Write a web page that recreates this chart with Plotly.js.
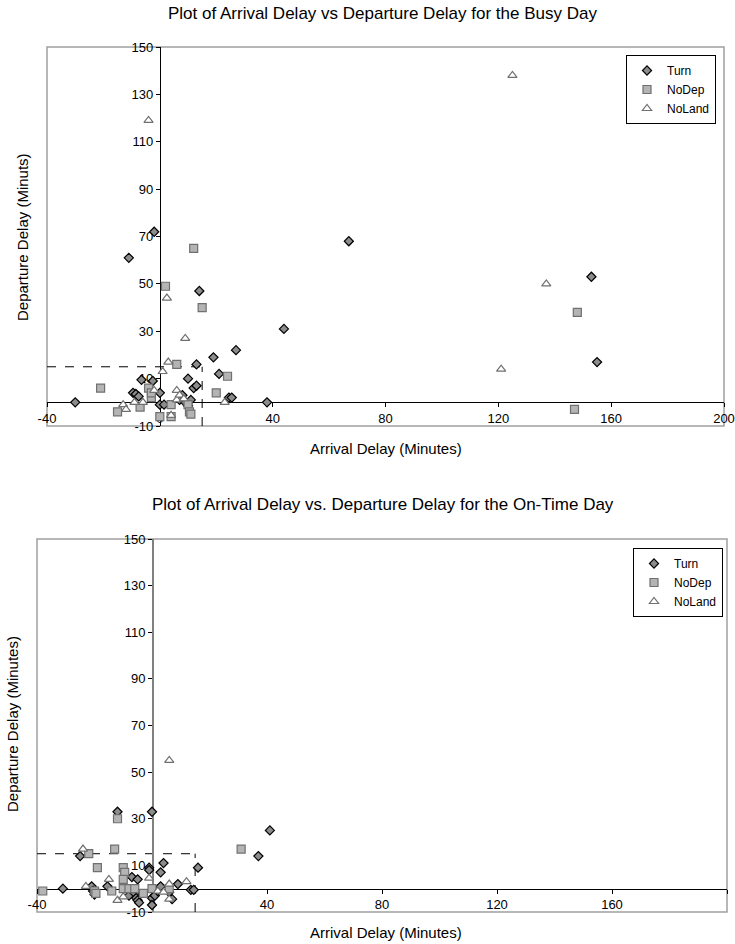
<!DOCTYPE html>
<html>
<head>
<meta charset="utf-8">
<script src="https://cdn.plot.ly/plotly-3.0.1.min.js"></script>
<style>html,body{margin:0;padding:0;background:#fff;}#chart{width:735px;height:944px;}</style>
</head>
<body>
<div id="chart"></div>
<script>
// ---- Data: Busy Day ----
const busyTurnX  = [-30,-11,-2,-9.5,-8.5,-7.5,-6.5,-2.5,0,0,1.5,7,9,10,8,10,11,12,13,13,14,19,21,27,24.5,25.5,38,44,67,153,155];
const busyTurnY  = [0,61,72,4,3.5,2.5,9.5,9,4,-1,-1,1,0,-1.5,3,10,1,6,7,16,47,19,12,22,2,2,0,31,68,53,17];
const busyNoDepX = [-21,-15,-7,-4,-3,-3,0,2,4,4,6,10,10.5,11,12,15,20,24,147,148];
const busyNoDepY = [6,-4,-2,6,2,4,-6,49,-1,-6,16,-1,-4,-5,65,40,4,11,-3,38];
const busyNoLandX = [-13,-12,-9,-6,-2,1,2.5,3,4,6,6,7,8.5,9,23,-4,121,125,137];
const busyNoLandY = [-1,-3,0,0,5,13,44,17,-5.5,5,1,3,1.5,27,0,119,14,138,50];

// ---- Data: On-Time Day ----
const onTurnX  = [-31,-25,-21,-20.5,-20,-15.5,-12,-8,-7,-5,-6,-5.5,-5,-4.5,-1,-1,0,0,0,1,2,3,3,4,6,7,9,13.5,14.5,16,37,41];
const onTurnY  = [0,14,1,-1,-2.5,1,33,-3,5,4,-2,-4,-5,-6,9,8,33,-4,-7,-3,-1,1,7,11,-1.5,-4.5,2,-0.5,-0.5,9,14,25];
const onNoDepX = [-38,-22,-19,-20,-19.5,-14,-13,-12,-10,-9.5,-10,-10,-8,-6,-3,0,6,31];
const onNoDepY = [-1,15,9,-1,-2,-1,17,30,9,7,4,0,0,0,-2,0,0,17];
const onNoLandX = [-24,-23,-15,-12,-10,-1,2,4,6,6,6,12];
const onNoLandY = [17,1,4,-5,-3.5,4.5,-1,-1.5,55,2,-4.5,3];

// ---- Axes / labels ----
const seriesNames = ['Turn','NoDep','NoLand'];
const xTicks = [-40,0,40,80,120,160,200];
const yTicks = [-10,10,30,50,70,90,110,130,150];
const xRange = [-40,200];
const yRange = [-10,150];
const onTimeLimit = 15;
const titles = {
  top: 'Plot of Arrival Delay vs Departure Delay for the Busy Day',
  bottom: 'Plot of Arrival Delay vs. Departure Delay for the On-Time Day',
  x: 'Arrival Delay (Minutes)',
  yTop: 'Departure Delay (Minuts)',
  yBottom: 'Departure Delay (Minutes)'
};

const W = 735, H = 944;
const FONT = '"Liberation Sans", Arial, sans-serif';

// plot area pixel boxes
const topBox = {l:47, r:724, t:47, b:426};
const botBox = {l:37, r:727, t:539, b:912};
function xdom(b){return [b.l/W, b.r/W];}
function ydom(b){return [1-b.b/H, 1-b.t/H];}
function xPosAtZero(b){const d=xdom(b);return d[0]+(0-xRange[0])/(xRange[1]-xRange[0])*(d[1]-d[0]);}
function yPosAtZero(b){const d=ydom(b);return d[0]+(0-yRange[0])/(yRange[1]-yRange[0])*(d[1]-d[0]);}

const mk = {
  Turn:   {symbol:'diamond', size:7, color:'#8c8c8c', line:{color:'#000', width:1.2}},
  NoDep:  {symbol:'square', size:8, color:'#b4b4b4', line:{color:'#707070', width:1.2}},
  NoLand: {symbol:'triangle-up', size:8, color:'#ffffff', line:{color:'#707070', width:1.2}}
};

function tr(x,y,name,xa,ya,leg){
  return {type:'scatter', mode:'markers', x:x, y:y, name:name, xaxis:xa, yaxis:ya,
          legend:leg, marker:mk[name], cliponaxis:true};
}

const data = [
  tr(busyTurnX, busyTurnY, seriesNames[0], 'x','y','legend'),
  tr(busyNoDepX, busyNoDepY, seriesNames[1], 'x','y','legend'),
  tr(busyNoLandX, busyNoLandY, seriesNames[2], 'x','y','legend'),
  tr(onTurnX, onTurnY, seriesNames[0], 'x2','y2','legend2'),
  tr(onNoDepX, onNoDepY, seriesNames[1], 'x2','y2','legend2'),
  tr(onNoLandX, onNoLandY, seriesNames[2], 'x2','y2','legend2')
];

function xAxis(box){
  return {domain:xdom(box), range:xRange, anchor:'free', position:yPosAtZero(box),
    tickvals:xTicks, ticktext:xTicks.map(String), ticks:'outside', ticklen:4, tickcolor:'#000',
    showline:true, linecolor:'#000', linewidth:1, showgrid:false, zeroline:false,
    tickfont:{family:FONT, size:13, color:'#000'}, fixedrange:true, layer:'below traces'};
}
function yAxis(box, lineColor){
  return {domain:ydom(box), range:yRange, anchor:'free', position:xPosAtZero(box),
    tickvals:yTicks, ticktext:yTicks.map(String), ticks:'outside', ticklen:4, tickcolor:'#000',
    showline:true, linecolor:lineColor, linewidth:1.5, showgrid:false, zeroline:false,
    tickfont:{family:FONT, size:13, color:'#000'}, fixedrange:true, layer:'below traces'};
}

function frame(xa, ya){
  return {type:'rect', xref:xa+' domain', yref:ya+' domain', x0:0, x1:1, y0:0, y1:1,
          line:{color:'#a0a0a0', width:1.5}, layer:'below'};
}
function dash(xa, ya){
  return [
    {type:'line', xref:xa, yref:ya, x0:xRange[0], x1:onTimeLimit, y0:onTimeLimit, y1:onTimeLimit,
     line:{color:'#000', width:1, dash:'dash'}, layer:'below'},
    {type:'line', xref:xa, yref:ya, x0:onTimeLimit, x1:onTimeLimit, y0:yRange[0], y1:onTimeLimit,
     line:{color:'#000', width:1, dash:'dash'}, layer:'below'}
  ];
}

function ann(text, x, y, size, angle){
  return {text:text, xref:'paper', yref:'paper', x:x/W, y:1-y/H, xanchor:'center', yanchor:'middle',
          showarrow:false, textangle:angle||0, font:{family:FONT, size:size, color:'#000'}};
}

const legendBase = {bgcolor:'#fff', bordercolor:'#000', borderwidth:1, xanchor:'right', yanchor:'top',
  font:{family:FONT, size:12, color:'#000'}, itemsizing:'trace', tracegroupgap:0,
  itemwidth:30, traceorder:'normal'};

const layout = {
  width:W, height:H, margin:{l:0,r:0,t:0,b:0},
  paper_bgcolor:'#fff', plot_bgcolor:'#fff', showlegend:true,
  xaxis: xAxis(topBox), yaxis: yAxis(topBox, '#000'),
  xaxis2: xAxis(botBox), yaxis2: yAxis(botBox, '#808080'),
  legend: Object.assign({}, legendBase, {x:716/W, y:1-55/H}),
  legend2: Object.assign({}, legendBase, {x:723/W, y:1-548/H}),
  shapes: [frame('x','y'), frame('x2','y2')].concat(dash('x','y'), dash('x2','y2')),
  annotations: [
    ann(titles.top, 383, 14, 17),
    ann(titles.x, 386, 448, 15),
    ann(titles.yTop, 22, 237, 15, -90),
    ann(titles.bottom, 383, 505, 17),
    ann(titles.x, 386, 932, 15),
    ann(titles.yBottom, 12, 724, 15, -90)
  ]
};

Plotly.newPlot('chart', data, layout, {displayModeBar:false, staticPlot:true});
</script>
</body>
</html>
